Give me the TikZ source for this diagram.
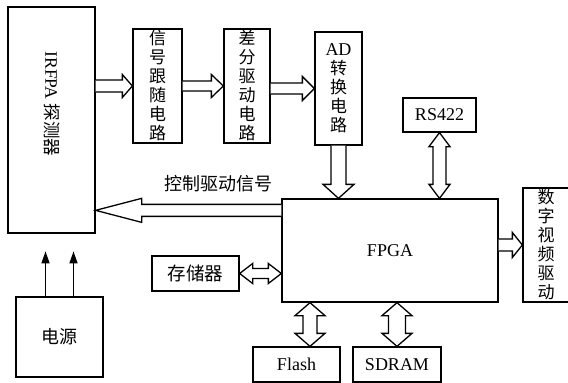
\documentclass[tikz,border=0pt]{standalone}
\usepackage{fontspec}
\setmainfont{Liberation Serif}
\newfontfamily\cjk{Noto Sans CJK SC}
\usetikzlibrary{arrows.meta,positioning,calc}

\tikzset{
  blk/.style={draw, line width=1.3pt, inner sep=0pt},
  vtext/.style={blk, align=center, font=\cjk\fontsize{17}{19}\selectfont},
  htext/.style={blk, font=\fontsize{18}{20}\selectfont},
  blockline/.style={line width=1.3pt, line join=miter, fill=white},
  powerarrow/.style={line width=1.3pt, -{Triangle[width=8pt,length=12pt]}},
}

% hollow block arrow: start, tip, shaft half width, head half width, head length
\newcommand{\blockarrow}[5]{%
  \path ($(#2)!#5!(#1)$) coordinate (ah);
  \draw[blockline] ($(#1)!#3!90:(#2)$) -- ($(ah)!#3!-90:(#1)$) -- ($(ah)!#4!-90:(#1)$)
    -- (#2) -- ($(ah)!#4!90:(#1)$) -- ($(ah)!#3!90:(#1)$) -- ($(#1)!#3!-90:(#2)$);
}
% hollow double block arrow
\newcommand{\dblarrow}[5]{%
  \path ($(#2)!#5!(#1)$) coordinate (ah) ($(#1)!#5!(#2)$) coordinate (at);
  \draw[blockline] (#1) -- ($(at)!#4!90:(#2)$) -- ($(at)!#3!90:(#2)$) -- ($(ah)!#3!-90:(#1)$)
    -- ($(ah)!#4!-90:(#1)$) -- (#2) -- ($(ah)!#4!90:(#1)$) -- ($(ah)!#3!90:(#1)$)
    -- ($(at)!#3!-90:(#2)$) -- ($(at)!#4!-90:(#2)$) -- cycle;
}

\begin{document}
\begin{tikzpicture}[x=1pt, y=-1pt]
  \useasboundingbox (0,0) rectangle (568,383);

  % blocks
  \node[blk, minimum width=87pt, minimum height=226pt] (irfpa) at (51.5,120) {};
  \node[rotate=-90, font=\fontsize{17.5}{20}\selectfont] (irfpalabel) at (52,104) {IRFPA {\cjk 探测器}};
  \node[vtext, minimum width=49pt, minimum height=114pt] (follow) at (157.5,86) {信\\号\\跟\\随\\电\\路};
  \node[vtext, minimum width=46pt, minimum height=114pt] (diff) at (247,86) {差\\分\\驱\\动\\电\\路};
  \node[vtext, minimum width=47pt, minimum height=113pt] (adc) at (338.5,88.5)
    {{\rmfamily\fontsize{18}{19}\selectfont AD}\\转\\换\\电\\路};
  \node[htext, minimum width=73pt, minimum height=34pt] (rs) at (439.5,115) {RS422};
  \node[htext, minimum width=216pt, minimum height=103pt] (fpga) at (390,250.5) {FPGA};
  \node[vtext, minimum width=46pt, minimum height=114pt] (video) at (546,245) {数\\字\\视\\频\\驱\\动};
  \node[htext, font=\cjk\fontsize{18.5}{20}\selectfont, minimum width=87pt, minimum height=35pt] (mem) at (195.5,273.5) {存储器};
  \node[htext, font=\cjk\fontsize{18}{20}\selectfont, minimum width=87pt, minimum height=80pt] (power) at (59.5,337) {电源};
  \node[htext, minimum width=87pt, minimum height=35pt] (flash) at (296.5,364.5) {Flash};
  \node[htext, minimum width=88pt, minimum height=35pt] (sdram) at (397,364.5) {SDRAM};

  % signal chain
  \coordinate (s1) at (irfpa.east |- follow.west);
  \blockarrow{s1}{follow.west}{6pt}{11.5pt}{10pt}
  \coordinate (s2) at (follow.east |- diff.west);
  \blockarrow{s2}{diff.west}{5pt}{11.5pt}{12pt}
  \coordinate (s3) at (diff.east |- adc.west);
  \blockarrow{s3}{adc.west}{5.5pt}{12pt}{12pt}
  \coordinate (s4) at (adc.south |- fpga.north);
  \blockarrow{adc.south}{s4}{7.5pt}{15.5pt}{14pt}
  \coordinate (s5) at (rs.south |- fpga.north);
  \dblarrow{rs.south}{s5}{6.5pt}{10.5pt}{14pt}

  % control back to detector
  \coordinate (ctl) at ($(fpga.north west)+(0,12)$);
  \coordinate (ctlend) at (ctl -| irfpa.east);
  \blockarrow{ctl}{ctlend}{6pt}{12pt}{46pt}
  \node[font=\cjk\fontsize{18}{20}\selectfont] (ctllabel) at (218,184) {控制驱动信号};

  % outputs and memories
  \coordinate (v1) at (fpga.east |- video.west);
  \blockarrow{v1}{video.west}{6pt}{12.5pt}{10pt}
  \coordinate (m1) at (mem.east -| fpga.west);
  \dblarrow{mem.east}{m1}{5pt}{10pt}{13pt}
  \coordinate (f1) at ($(flash.north)+(13.5,0)$);
  \coordinate (f2) at (f1 |- fpga.south);
  \dblarrow{f2}{f1}{7pt}{15pt}{13pt}
  \coordinate (d1) at (sdram.north |- fpga.south);
  \dblarrow{d1}{sdram.north}{8.5pt}{15pt}{13pt}

  % power supply
  \draw[powerarrow] ($(power.north)+(-14,0)$) -- ++(0,-45);
  \draw[powerarrow] ($(power.north)+(14,0)$) -- ++(0,-45);
\end{tikzpicture}
\end{document}
